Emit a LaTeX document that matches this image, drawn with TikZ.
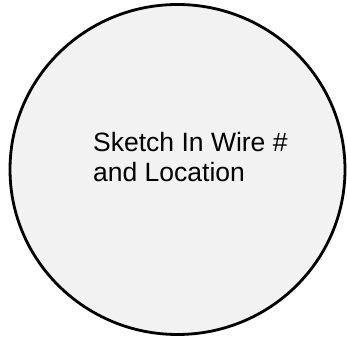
\documentclass[tikz,border=0pt]{standalone}
\usepackage{fontspec}
\setmainfont{Liberation Sans}
\definecolor{bubblefill}{HTML}{F2F2F2}
\begin{document}
\begin{tikzpicture}[x=1pt,y=1pt,
  bubble/.style={draw=black,line width=2.8pt,fill=bubblefill},
  label/.style={inner sep=0pt,align=left,font=\fontsize{26.5}{30}\selectfont}]
\useasboundingbox (0,0) rectangle (347,339);
\draw[bubble] (177.5,169.5) ellipse [x radius=167.5, y radius=165];
\node[label,anchor=north west] (t) at (93,207) {Sketch In Wire \#\\and Location};
\end{tikzpicture}
\end{document}
